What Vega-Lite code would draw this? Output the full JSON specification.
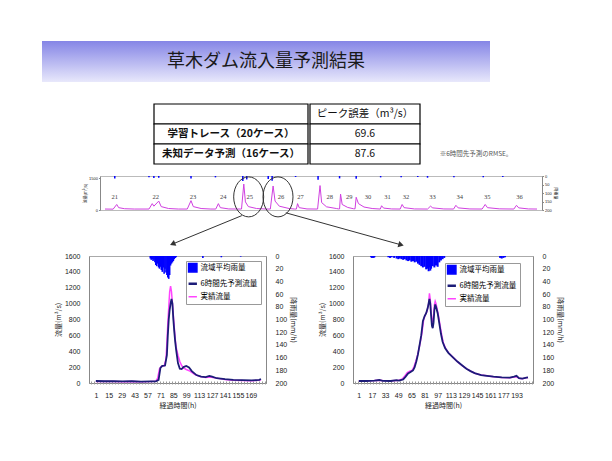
{
"$schema": "https://vega.github.io/schema/vega-lite/v6.json",
"background": "white",
"padding": {"left": 42, "top": 41, "right": 4, "bottom": 4},
"config": {
  "font": "Liberation Sans",
  "view": {"stroke": null},
  "axis": {"labelFont": "Liberation Sans", "labelFontSize": 7, "labelColor": "#222", "titleFont": "Noto Sans CJK JP", "titleFontSize": 7, "titleFontWeight": "normal", "titleColor": "#222", "grid": false, "domainColor": "#888", "tickColor": "#888", "tickSize": 0, "labelPadding": 9, "titlePadding": 3, "labelOverlap": false, "format": "d"},
  "legend": {"labelFont": "Noto Sans CJK JP"}
},
"datasets": {
  "table": [
    {"row": "h", "label": "", "val": "ピーク誤差（m³/s）", "note": ""},
    {"row": "a", "label": "学習トレース（20ケース）", "val": "69.6", "note": ""},
    {"row": "b", "label": "未知データ予測（16ケース）", "val": "87.6", "note": "※6時間先予測のRMSE。"}
  ],
  "strip_flow": [
    {"t":0,"q":45},{"t":50,"q":40},{"t":72,"q":260},{"t":84,"q":110},{"t":120,"q":60},{"t":180,"q":45},
    {"t":270,"q":45},{"t":290,"q":300},{"t":300,"q":180},{"t":330,"q":420},{"t":345,"q":160},{"t":390,"q":70},{"t":450,"q":45},
    {"t":505,"q":45},{"t":528,"q":440},{"t":542,"q":160},{"t":590,"q":70},{"t":650,"q":45},
    {"t":680,"q":45},{"t":696,"q":300},{"t":708,"q":110},{"t":760,"q":50},
    {"t":838,"q":45},{"t":852,"q":1220},{"t":862,"q":380},{"t":880,"q":160},{"t":930,"q":70},{"t":990,"q":45},
    {"t":1015,"q":45},{"t":1032,"q":1130},{"t":1044,"q":420},{"t":1070,"q":180},{"t":1130,"q":70},{"t":1165,"q":45},
    {"t":1175,"q":45},{"t":1182,"q":300},{"t":1192,"q":110},{"t":1240,"q":50},
    {"t":1305,"q":45},{"t":1320,"q":1150},{"t":1330,"q":350},{"t":1360,"q":150},{"t":1420,"q":70},{"t":1435,"q":50},
    {"t":1440,"q":50},{"t":1446,"q":750},{"t":1456,"q":260},{"t":1490,"q":120},{"t":1525,"q":60},
    {"t":1535,"q":55},{"t":1542,"q":600},{"t":1556,"q":300},{"t":1590,"q":140},{"t":1640,"q":70},{"t":1690,"q":45},
    {"t":1698,"q":200},{"t":1710,"q":90},{"t":1760,"q":50},
    {"t":1812,"q":45},{"t":1824,"q":260},{"t":1836,"q":110},{"t":1900,"q":50},
    {"t":1980,"q":45},{"t":1998,"q":180},{"t":2012,"q":100},{"t":2080,"q":50},
    {"t":2140,"q":45},{"t":2154,"q":220},{"t":2168,"q":100},{"t":2240,"q":50},
    {"t":2315,"q":45},{"t":2334,"q":260},{"t":2348,"q":110},{"t":2420,"q":55},
    {"t":2510,"q":45},{"t":2526,"q":220},{"t":2540,"q":100},{"t":2600,"q":50},{"t":2652,"q":45}
  ],
  "strip_rain": [
    {"t":60,"mm":15},{"t":270,"mm":8},{"t":300,"mm":12},{"t":330,"mm":10},{"t":528,"mm":14},{"t":678,"mm":8},
    {"t":846,"mm":30},{"t":870,"mm":20},{"t":1002,"mm":18},{"t":1026,"mm":28},{"t":1170,"mm":6},{"t":1308,"mm":22},
    {"t":1440,"mm":14},{"t":1542,"mm":16},{"t":1692,"mm":8},{"t":1818,"mm":8},{"t":1920,"mm":6},{"t":1980,"mm":10},
    {"t":2142,"mm":8},{"t":2322,"mm":8},{"t":2442,"mm":6}
  ],
  "strip_labels": [
    {"ev":"21","t":60},{"ev":"22","t":312},{"ev":"23","t":540},{"ev":"24","t":726},{"ev":"25","t":888},{"ev":"26","t":1080},
    {"ev":"27","t":1200},{"ev":"28","t":1380},{"ev":"29","t":1500},{"ev":"30","t":1614},{"ev":"31","t":1734},{"ev":"32","t":1848},
    {"ev":"33","t":2010},{"ev":"34","t":2178},{"ev":"35","t":2346},{"ev":"36","t":2544}
  ],
  "circles": [{"t": 882, "q": 617}, {"t": 1062, "q": 617}],
  "arrows": [{"t": 840, "q": -264, "t2": 420, "q2": -1584}, {"t": 1110, "q": -132, "t2": 1812, "q2": -1628}],
  "rain1": [
    {"h":60,"mm":4},{"h":61,"mm":6},{"h":62,"mm":5},{"h":63,"mm":8},{"h":64,"mm":6},{"h":65,"mm":10},{"h":66,"mm":14},{"h":67,"mm":16},
    {"h":68,"mm":12},{"h":69,"mm":18},{"h":70,"mm":20},{"h":71,"mm":17},{"h":72,"mm":22},{"h":73,"mm":25},{"h":74,"mm":18},{"h":75,"mm":28},
    {"h":76,"mm":20},{"h":77,"mm":26},{"h":78,"mm":30},{"h":79,"mm":34},{"h":80,"mm":36},{"h":81,"mm":30},{"h":82,"mm":15},{"h":83,"mm":12},
    {"h":84,"mm":10},{"h":85,"mm":8},{"h":86,"mm":5},{"h":87,"mm":3},{"h":88,"mm":2},{"h":117,"mm":3},{"h":137,"mm":2},{"h":158,"mm":1}
  ],
  "obs1": [
    {"h":1,"q":20},{"h":10,"q":18},{"h":20,"q":20},{"h":30,"q":16},{"h":40,"q":18},{"h":50,"q":16},{"h":60,"q":18},{"h":66,"q":22},
    {"h":68,"q":60},{"h":70,"q":180},{"h":72,"q":210},{"h":75,"q":215},{"h":77,"q":300},{"h":78,"q":500},{"h":79,"q":750},{"h":80,"q":950},
    {"h":81,"q":1150},{"h":82,"q":1220},{"h":83,"q":1150},{"h":84,"q":1000},{"h":85,"q":850},{"h":86,"q":700},{"h":87,"q":560},{"h":88,"q":450},
    {"h":90,"q":350},{"h":92,"q":270},{"h":94,"q":220},{"h":96,"q":190},{"h":99,"q":170},{"h":103,"q":150},{"h":108,"q":110},{"h":113,"q":85},
    {"h":120,"q":70},{"h":125,"q":75},{"h":128,"q":70},{"h":135,"q":55},{"h":141,"q":45},{"h":150,"q":35},{"h":160,"q":30},{"h":170,"q":28},
    {"h":178,"q":35},{"h":180,"q":42}
  ],
  "pred1": [
    {"h":1,"q":25},{"h":10,"q":22},{"h":20,"q":22},{"h":30,"q":20},{"h":40,"q":22},{"h":50,"q":18},{"h":60,"q":20},{"h":66,"q":20},
    {"h":69,"q":40},{"h":71,"q":190},{"h":73,"q":215},{"h":76,"q":220},{"h":78,"q":350},{"h":79,"q":600},{"h":80,"q":800},{"h":81,"q":920},
    {"h":82,"q":1000},{"h":83,"q":1060},{"h":84,"q":1000},{"h":85,"q":800},{"h":86,"q":650},{"h":87,"q":520},{"h":88,"q":420},{"h":90,"q":250},
    {"h":92,"q":180},{"h":94,"q":175},{"h":96,"q":200},{"h":99,"q":215},{"h":102,"q":195},{"h":105,"q":150},{"h":110,"q":100},{"h":115,"q":80},
    {"h":120,"q":75},{"h":124,"q":90},{"h":127,"q":80},{"h":132,"q":60},{"h":141,"q":48},{"h":150,"q":40},{"h":160,"q":35},{"h":170,"q":32},
    {"h":178,"q":40},{"h":180,"q":50}
  ],
  "rain2": [
    {"h":16,"mm":2},{"h":17,"mm":3},{"h":18,"mm":2},{"h":19,"mm":3},{"h":20,"mm":2},{"h":37,"mm":2},{"h":39,"mm":3},{"h":41,"mm":2},
    {"h":44,"mm":3},{"h":47,"mm":4},{"h":49,"mm":5},{"h":51,"mm":4},{"h":53,"mm":5},{"h":55,"mm":6},{"h":57,"mm":5},{"h":59,"mm":7},
    {"h":61,"mm":8},{"h":63,"mm":7},{"h":65,"mm":9},{"h":67,"mm":8},{"h":69,"mm":10},{"h":71,"mm":9},{"h":73,"mm":12},{"h":75,"mm":14},
    {"h":77,"mm":16},{"h":79,"mm":18},{"h":81,"mm":17},{"h":83,"mm":21},{"h":85,"mm":20},{"h":86,"mm":24},{"h":87,"mm":18},{"h":88,"mm":23},
    {"h":89,"mm":20},{"h":91,"mm":16},{"h":93,"mm":18},{"h":95,"mm":15},{"h":97,"mm":17},{"h":99,"mm":10},{"h":101,"mm":7},{"h":103,"mm":5},
    {"h":105,"mm":3},{"h":173,"mm":3},{"h":175,"mm":4},{"h":177,"mm":3},{"h":179,"mm":2}
  ],
  "obs2": [
    {"h":1,"q":28},{"h":10,"q":28},{"h":20,"q":30},{"h":25,"q":35},{"h":30,"q":30},{"h":40,"q":28},{"h":47,"q":30},{"h":50,"q":35},
    {"h":54,"q":50},{"h":57,"q":90},{"h":60,"q":130},{"h":63,"q":150},{"h":66,"q":160},{"h":68,"q":200},{"h":70,"q":260},{"h":72,"q":330},
    {"h":74,"q":420},{"h":76,"q":520},{"h":78,"q":640},{"h":80,"q":800},{"h":82,"q":860},{"h":84,"q":900},{"h":86,"q":1000},{"h":87,"q":1130},
    {"h":88,"q":1050},{"h":89,"q":900},{"h":90,"q":780},{"h":91,"q":760},{"h":92,"q":850},{"h":93,"q":980},{"h":94,"q":1030},{"h":95,"q":1000},
    {"h":96,"q":950},{"h":98,"q":850},{"h":100,"q":720},{"h":102,"q":600},{"h":104,"q":500},{"h":107,"q":430},{"h":111,"q":370},{"h":116,"q":320},
    {"h":122,"q":260},{"h":128,"q":210},{"h":133,"q":175},{"h":138,"q":145},{"h":143,"q":120},{"h":150,"q":100},{"h":157,"q":90},{"h":165,"q":80},
    {"h":175,"q":70},{"h":185,"q":65},{"h":190,"q":75},{"h":193,"q":80},{"h":196,"q":60},{"h":200,"q":55},{"h":205,"q":65},{"h":207,"q":70}
  ],
  "pred2": [
    {"h":1,"q":25},{"h":10,"q":25},{"h":20,"q":30},{"h":26,"q":38},{"h":30,"q":28},{"h":40,"q":25},{"h":47,"q":35},{"h":50,"q":30},
    {"h":55,"q":45},{"h":58,"q":80},{"h":61,"q":120},{"h":64,"q":140},{"h":67,"q":160},{"h":69,"q":200},{"h":71,"q":270},{"h":73,"q":360},
    {"h":75,"q":480},{"h":77,"q":600},{"h":79,"q":780},{"h":81,"q":840},{"h":83,"q":880},{"h":85,"q":950},{"h":87,"q":1060},{"h":88,"q":1000},
    {"h":89,"q":850},{"h":90,"q":720},{"h":91,"q":690},{"h":92,"q":760},{"h":93,"q":920},{"h":94,"q":990},{"h":95,"q":960},{"h":97,"q":880},
    {"h":99,"q":750},{"h":101,"q":620},{"h":103,"q":520},{"h":106,"q":440},{"h":110,"q":380},{"h":115,"q":330},{"h":121,"q":270},{"h":127,"q":220},
    {"h":132,"q":180},{"h":137,"q":150},{"h":142,"q":125},{"h":150,"q":100},{"h":157,"q":90},{"h":165,"q":80},{"h":175,"q":72},{"h":185,"q":68},
    {"h":190,"q":80},{"h":193,"q":90},{"h":196,"q":62},{"h":200,"q":55},{"h":205,"q":68},{"h":207,"q":72}
  ]
},
"spacing": 21,
"resolve": {"scale": {"color": "independent"}, "legend": {"color": "independent"}},
"vconcat": [
  {
    "width": 448, "height": 41,
    "data": {"values": [{"title": "草木ダム流入量予測結果"}]},
    "layer": [
      {"mark": {"type": "rect", "color": {"gradient": "linear", "x1": 0, "y1": 0, "x2": 0, "y2": 1, "stops": [{"offset": 0, "color": "#8585e6"}, {"offset": 1, "color": "#e8e8fb"}]}}, "encoding": {}},
      {"mark": {"type": "text", "font": "Noto Sans CJK JP", "fontSize": 18, "color": "#1a1a1a"}, "encoding": {"text": {"field": "title"}}}
    ]
  },
  {
    "spacing": 8,
    "resolve": {"scale": {"color": "independent"}, "legend": {"color": "independent"}},
    "vconcat": [
      {
        "spacing": 0,
        "hconcat": [
          {"width": 111, "height": 1, "data": {"values": []}, "mark": "point"},
          {
            "width": 154, "height": 60,
            "data": {"name": "table"},
            "encoding": {"y": {"field": "row", "type": "ordinal", "sort": null, "axis": null, "scale": {"paddingInner": 0, "paddingOuter": 0}}},
            "layer": [
              {"mark": {"type": "rect", "fill": "white", "stroke": "black", "strokeWidth": 1.2}},
              {"mark": {"type": "text", "font": "Noto Sans CJK JP", "fontSize": 10.5, "fontWeight": "bold", "color": "#111"}, "encoding": {"text": {"field": "label"}}}
            ]
          },
          {
            "width": 110, "height": 60,
            "data": {"name": "table"},
            "encoding": {"y": {"field": "row", "type": "ordinal", "sort": null, "axis": null, "scale": {"paddingInner": 0, "paddingOuter": 0}}},
            "layer": [
              {"mark": {"type": "rect", "fill": "white", "stroke": "black", "strokeWidth": 1.2}},
              {"mark": {"type": "text", "font": "Noto Sans CJK JP", "fontSize": 10.5, "color": "#111"}, "encoding": {"text": {"field": "val"}}}
            ]
          },
          {"width": 10, "height": 1, "data": {"values": []}, "mark": "point"},
          {
            "width": 90, "height": 60,
            "data": {"name": "table"},
            "mark": {"type": "text", "font": "Noto Sans CJK JP", "fontSize": 6.5, "color": "#555"},
            "encoding": {"y": {"field": "row", "type": "ordinal", "sort": null, "axis": null, "scale": {"paddingInner": 0, "paddingOuter": 0}}, "text": {"field": "note"}}
          }
        ]
      },
      {
        "spacing": 3,
        "resolve": {"scale": {"color": "independent"}, "legend": {"color": "independent"}},
        "vconcat": [
          {
            "spacing": 0,
            "hconcat": [
              {"width": 41, "height": 1, "data": {"values": []}, "mark": "point"},
              {
                "width": 442, "height": 34,
                "view": {"stroke": "#bbb"},
                "layer": [
                  {
                    "data": {"name": "strip_rain"},
                    "mark": {"type": "bar", "size": 1.5, "color": "#0000ff"},
                    "encoding": {
                      "x": {"field": "t", "type": "quantitative", "scale": {"domain": [0, 2652], "nice": false}, "axis": null},
                      "y": {"field": "mm", "type": "quantitative", "scale": {"domain": [0, 200], "reverse": true}, "axis": {"orient": "right", "values": [0, 50, 100, 150, 200], "labelOverlap": false, "labelFontSize": 4, "tickSize": 1.5, "labelPadding": 1, "title": "降雨量", "titleFontSize": 4, "titlePadding": 1}}
                    }
                  },
                  {
                    "layer": [
                      {
                        "data": {"name": "strip_flow"},
                        "mark": {"type": "line", "color": "#d040e0", "strokeWidth": 1},
                        "encoding": {
                          "x": {"field": "t", "type": "quantitative"},
                          "y": {"field": "q", "type": "quantitative", "scale": {"domain": [0, 1500]}, "axis": {"orient": "left", "values": [0, 500, 1000, 1500], "labelOverlap": false, "labelFontSize": 4, "tickSize": 1.5, "labelPadding": 1, "title": "流量(m³/s)", "titleFontSize": 4, "titlePadding": 1}}
                        }
                      },
                      {
                        "data": {"name": "strip_labels"},
                        "mark": {"type": "text", "fontSize": 6.5, "color": "#444", "font": "Liberation Serif"},
                        "encoding": {"x": {"field": "t", "type": "quantitative"}, "y": {"datum": 620}, "text": {"field": "ev"}}
                      },
                      {
                        "data": {"name": "circles"},
                        "mark": {"type": "point", "shape": "M-0.75,0A0.75,1,0,1,0,0.75,0A0.75,1,0,1,0,-0.75,0Z", "size": 1600, "filled": false, "stroke": "#333", "strokeWidth": 1, "opacity": 1},
                        "encoding": {"x": {"field": "t", "type": "quantitative"}, "y": {"field": "q", "type": "quantitative"}}
                      },
                      {
                        "data": {"name": "arrows"},
                        "mark": {"type": "rule", "color": "#333", "strokeWidth": 1},
                        "encoding": {"x": {"field": "t", "type": "quantitative"}, "y": {"field": "q", "type": "quantitative"}, "x2": {"field": "t2"}, "y2": {"field": "q2"}}
                      },
                      {
                        "data": {"values": [{"t": 420, "q": -1584}]},
                        "mark": {"type": "point", "shape": "triangle", "angle": 247, "size": 40, "filled": true, "color": "#333", "opacity": 1},
                        "encoding": {"x": {"field": "t", "type": "quantitative"}, "y": {"field": "q", "type": "quantitative"}}
                      },
                      {
                        "data": {"values": [{"t": 1812, "q": -1628}]},
                        "mark": {"type": "point", "shape": "triangle", "angle": 106, "size": 40, "filled": true, "color": "#333", "opacity": 1},
                        "encoding": {"x": {"field": "t", "type": "quantitative"}, "y": {"field": "q", "type": "quantitative"}}
                      }
                    ]
                  }
                ],
                "resolve": {"scale": {"y": "independent"}}
              }
            ]
          },
          {
            "spacing": 0,
            "resolve": {"scale": {"color": "independent"}, "legend": {"color": "independent"}},
            "hconcat": [
              {"width": 11, "height": 1, "data": {"values": []}, "mark": "point"},
              {
                "spacing": 19,
                "resolve": {"scale": {"color": "independent"}, "legend": {"color": "independent"}},
                "hconcat": [
                  {
                    "width": 177, "height": 127,
                    "view": {"stroke": "#aaa"},
                    "layer": [
                      {
                        "data": {"name": "rain1"},
                        "mark": {"type": "bar", "size": 1.6},
                        "encoding": {
                          "x": {"field": "h", "type": "quantitative", "scale": {"domain": [-1, 180], "nice": false, "zero": false}, "axis": {"values": [1, 15, 29, 43, 57, 71, 85, 99, 113, 127, 141, 155, 169], "labelOverlap": false, "labelFlush": false, "title": "経過時間(h)", "labelPadding": 8, "titlePadding": 3}},
                          "y": {"field": "mm", "type": "quantitative", "scale": {"domain": [0, 200], "reverse": true}, "axis": {"orient": "right", "values": [0, 20, 40, 60, 80, 100, 120, 140, 160, 180, 200], "labelOverlap": false, "title": "降雨量(mm/h)"}},
                          "color": {"datum": "流域平均雨量", "type": "nominal", "scale": {"domain": ["流域平均雨量", "6時間先予測流量", "実績流量"], "range": ["#0000ff", "#1c1c78", "#ff44ff"]},
                            "legend": {"orient": "none", "legendX": 97, "legendY": 5, "title": null, "fillColor": "white", "strokeColor": "#999", "padding": 3, "labelFontSize": 7.5, "symbolSize": 70, "rowPadding": 3, "labelOffset": 4, "labelLimit": 200,
                              "encode": {"symbols": {"update": {
                                "shape": {"signal": "datum.value === '流域平均雨量' ? 'square' : 'stroke'"},
                                "fill": {"signal": "datum.value === '流域平均雨量' ? '#0000ff' : 'transparent'"},
                                "stroke": {"signal": "datum.value === '流域平均雨量' ? '#0000ff' : datum.value === '6時間先予測流量' ? '#1c1c78' : '#ff44ff'"},
                                "strokeWidth": {"signal": "datum.value === '6時間先予測流量' ? 2.5 : 1.5"}}}}}}
                        }
                      },
                      {
                        "layer": [
                          {
                            "data": {"values": [{"z": 0}]},
                            "mark": {"type": "rule", "color": "#999", "strokeWidth": 3, "strokeDash": [1, 2]},
                            "encoding": {"y": {"field": "z", "type": "quantitative", "scale": {"domain": [0, 1600]}, "axis": {"orient": "left", "values": [0, 200, 400, 600, 800, 1000, 1200, 1400, 1600], "labelOverlap": false, "title": "流量(m³/s)"}}}
                          },
                          {
                            "data": {"name": "obs1"},
                            "mark": {"type": "line", "strokeWidth": 1.5},
                            "encoding": {
                              "x": {"field": "h", "type": "quantitative", "axis": {"values": [1, 15, 29, 43, 57, 71, 85, 99, 113, 127, 141, 155, 169], "labelOverlap": false, "labelFlush": false, "title": "経過時間(h)", "labelPadding": 8, "titlePadding": 3}},
                              "y": {"field": "q", "type": "quantitative", "axis": {"orient": "left", "values": [0, 200, 400, 600, 800, 1000, 1200, 1400, 1600], "labelOverlap": false, "title": "流量(m³/s)"}},
                              "color": {"datum": "実績流量", "type": "nominal"}}
                          },
                          {
                            "data": {"name": "pred1"},
                            "mark": {"type": "line", "strokeWidth": 1.8},
                            "encoding": {
                              "x": {"field": "h", "type": "quantitative", "axis": {"values": [1, 15, 29, 43, 57, 71, 85, 99, 113, 127, 141, 155, 169], "labelOverlap": false, "labelFlush": false, "title": "経過時間(h)", "labelPadding": 8, "titlePadding": 3}},
                              "y": {"field": "q", "type": "quantitative", "axis": {"orient": "left", "values": [0, 200, 400, 600, 800, 1000, 1200, 1400, 1600], "labelOverlap": false, "title": "流量(m³/s)"}},
                              "color": {"datum": "6時間先予測流量", "type": "nominal"}}
                          }
                        ]
                      }
                    ],
                    "resolve": {"scale": {"y": "independent"}}
                  },
                  {
                    "width": 180, "height": 127,
                    "view": {"stroke": "#aaa"},
                    "layer": [
                      {
                        "data": {"name": "rain2"},
                        "mark": {"type": "bar", "size": 2},
                        "encoding": {
                          "x": {"field": "h", "type": "quantitative", "scale": {"domain": [0, 207], "nice": false, "zero": false}, "axis": {"values": [1, 17, 33, 49, 65, 81, 97, 113, 129, 145, 161, 177, 193], "labelOverlap": false, "labelFlush": false, "title": "経過時間(h)", "labelPadding": 8, "titlePadding": 3}},
                          "y": {"field": "mm", "type": "quantitative", "scale": {"domain": [0, 200], "reverse": true}, "axis": {"orient": "right", "values": [0, 20, 40, 60, 80, 100, 120, 140, 160, 180, 200], "labelOverlap": false, "title": "降雨量(mm/h)"}},
                          "color": {"datum": "流域平均雨量", "type": "nominal", "scale": {"domain": ["流域平均雨量", "6時間先予測流量", "実績流量"], "range": ["#0000ff", "#1c1c78", "#ff44ff"]},
                            "legend": {"orient": "none", "legendX": 92, "legendY": 7, "title": null, "fillColor": "white", "strokeColor": "#999", "padding": 3, "labelFontSize": 7.5, "symbolSize": 70, "rowPadding": 3, "labelOffset": 4, "labelLimit": 200,
                              "encode": {"symbols": {"update": {
                                "shape": {"signal": "datum.value === '流域平均雨量' ? 'square' : 'stroke'"},
                                "fill": {"signal": "datum.value === '流域平均雨量' ? '#0000ff' : 'transparent'"},
                                "stroke": {"signal": "datum.value === '流域平均雨量' ? '#0000ff' : datum.value === '6時間先予測流量' ? '#1c1c78' : '#ff44ff'"},
                                "strokeWidth": {"signal": "datum.value === '6時間先予測流量' ? 2.5 : 1.5"}}}}}}
                        }
                      },
                      {
                        "layer": [
                          {
                            "data": {"values": [{"z": 0}]},
                            "mark": {"type": "rule", "color": "#999", "strokeWidth": 3, "strokeDash": [1, 2]},
                            "encoding": {"y": {"field": "z", "type": "quantitative", "scale": {"domain": [0, 1600]}, "axis": {"orient": "left", "values": [0, 200, 400, 600, 800, 1000, 1200, 1400, 1600], "labelOverlap": false, "title": "流量(m³/s)"}}}
                          },
                          {
                            "data": {"name": "obs2"},
                            "mark": {"type": "line", "strokeWidth": 1.5},
                            "encoding": {
                              "x": {"field": "h", "type": "quantitative", "axis": {"values": [1, 17, 33, 49, 65, 81, 97, 113, 129, 145, 161, 177, 193], "labelOverlap": false, "labelFlush": false, "title": "経過時間(h)", "labelPadding": 8, "titlePadding": 3}},
                              "y": {"field": "q", "type": "quantitative", "axis": {"orient": "left", "values": [0, 200, 400, 600, 800, 1000, 1200, 1400, 1600], "labelOverlap": false, "title": "流量(m³/s)"}},
                              "color": {"datum": "実績流量", "type": "nominal"}}
                          },
                          {
                            "data": {"name": "pred2"},
                            "mark": {"type": "line", "strokeWidth": 1.8},
                            "encoding": {
                              "x": {"field": "h", "type": "quantitative", "axis": {"values": [1, 17, 33, 49, 65, 81, 97, 113, 129, 145, 161, 177, 193], "labelOverlap": false, "labelFlush": false, "title": "経過時間(h)", "labelPadding": 8, "titlePadding": 3}},
                              "y": {"field": "q", "type": "quantitative", "axis": {"orient": "left", "values": [0, 200, 400, 600, 800, 1000, 1200, 1400, 1600], "labelOverlap": false, "title": "流量(m³/s)"}},
                              "color": {"datum": "6時間先予測流量", "type": "nominal"}}
                          }
                        ]
                      }
                    ],
                    "resolve": {"scale": {"y": "independent"}}
                  }
                ]
              }
            ]
          }
        ]
      }
    ]
  }
]
}
